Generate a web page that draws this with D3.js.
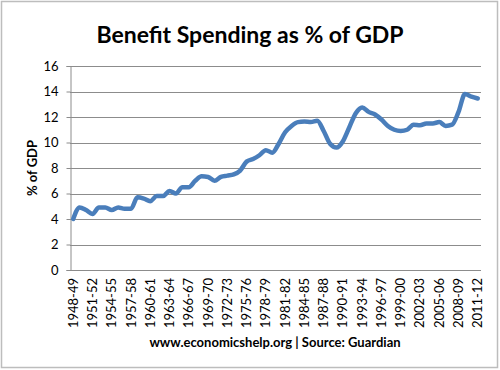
<!DOCTYPE html>
<html>
<head>
<meta charset="UTF-8">
<title>Benefit Spending as % of GDP</title>
<script src="https://d3js.org/d3.v7.min.js"></script>
<style>
    body { margin: 0; background: #fff; }
    svg text { font-family: Lato, "Open Sans", sans-serif; fill: #000; }
</style>
</head>
<body>
<svg id="chart" width="500" height="370"></svg>
<script>
    // fiscal years shown on the category axis
    const years = [
        "1948-49","1949-50","1950-51","1951-52","1952-53","1953-54","1954-55","1955-56",
        "1956-57","1957-58","1958-59","1959-60","1960-61","1961-62","1962-63","1963-64",
        "1964-65","1965-66","1966-67","1967-68","1968-69","1969-70","1970-71","1971-72",
        "1972-73","1973-74","1974-75","1975-76","1976-77","1977-78","1978-79","1979-80",
        "1980-81","1981-82","1982-83","1983-84","1984-85","1985-86","1986-87","1987-88",
        "1988-89","1989-90","1990-91","1991-92","1992-93","1993-94","1994-95","1995-96",
        "1996-97","1997-98","1998-99","1999-00","2000-01","2001-02","2002-03","2003-04",
        "2004-05","2005-06","2006-07","2007-08","2008-09","2009-10","2010-11","2011-12"
    ];
    // benefit spending, % of GDP
    const spending = [
        4.0, 4.9, 4.7, 4.4, 4.9, 4.9, 4.7, 4.9,
        4.8, 4.8, 5.7, 5.6, 5.4, 5.8, 5.8, 6.2,
        6.0, 6.5, 6.5, 7.0, 7.35, 7.3, 7.0, 7.3,
        7.4, 7.5, 7.8, 8.5, 8.7, 9.0, 9.4, 9.2,
        9.9, 10.8, 11.3, 11.6, 11.65, 11.6, 11.7, 10.9,
        9.9, 9.6, 10.1, 11.2, 12.3, 12.75, 12.4, 12.2,
        11.8, 11.3, 11.0, 10.9, 11.0, 11.4, 11.35, 11.5,
        11.5, 11.6, 11.3, 11.4, 12.4, 13.8, 13.6, 13.45
    ];
    const tickYears = [
        "1948-49","1951-52","1954-55","1957-58","1960-61","1963-64","1966-67","1969-70",
        "1972-73","1975-76","1978-79","1981-82","1984-85","1987-88","1990-91","1993-94",
        "1996-97","1999-00","2002-03","2005-06","2008-09","2011-12"
    ];
    const yTicks = [0, 2, 4, 6, 8, 10, 12, 14, 16];

    const svg = d3.select('#chart');
    const plotLeft = 70, plotRight = 481, plotTop = 66, plotBottom = 270;

    // outer frame
    svg.append('rect')
        .attr('x', 1.5).attr('y', 1.5)
        .attr('width', 496).attr('height', 366)
        .attr('fill', '#fff')
        .attr('stroke', '#bdbdbd')
        .attr('stroke-width', 1.5);

    const x = d3.scaleBand().domain(years).range([plotLeft, plotRight]);
    const y = d3.scaleLinear().domain([0, 16]).range([plotBottom, plotTop]);

    // gridlines
    svg.append('g')
        .selectAll('line')
        .data(yTicks.filter(d => d > 0))
        .join('line')
        .attr('x1', plotLeft).attr('x2', plotRight)
        .attr('y1', d => Math.round(y(d)) + 0.5)
        .attr('y2', d => Math.round(y(d)) + 0.5)
        .attr('stroke', '#8c8c8c')
        .attr('stroke-width', 1);

    // y axis
    const yAxis = svg.append('g')
        .attr('transform', `translate(${plotLeft + 0.5},0)`)
        .call(d3.axisLeft(y).tickValues(yTicks).tickSize(4).tickPadding(8));
    yAxis.select('.domain').attr('stroke', '#8c8c8c');
    yAxis.selectAll('.tick line').attr('stroke', '#8c8c8c');
    yAxis.selectAll('.tick text')
        .attr('font-size', 13)
        .style('font-family', 'Lato, sans-serif');

    // x axis line
    svg.append('line')
        .attr('x1', plotLeft).attr('x2', plotRight)
        .attr('y1', plotBottom + 0.5).attr('y2', plotBottom + 0.5)
        .attr('stroke', '#8c8c8c');

    // x tick labels, rotated
    svg.append('g')
        .selectAll('text')
        .data(tickYears)
        .join('text')
        .attr('transform', d => `translate(${x(d) + x.bandwidth() / 2 + 4.5},${plotBottom + 8}) rotate(-90)`)
        .attr('text-anchor', 'end')
        .attr('font-size', 13)
        .text(d => d);

    // data line
    const line = d3.line()
        .x((d, i) => x(years[i]) + x.bandwidth() / 2)
        .y(d => y(d))
        .curve(d3.curveMonotoneX);

    svg.append('path')
        .datum(spending)
        .attr('d', line)
        .attr('fill', 'none')
        .attr('stroke', '#4a7ebb')
        .attr('stroke-width', 4.5)
        .attr('stroke-linejoin', 'round')
        .attr('stroke-linecap', 'round');

    // title
    svg.append('text')
        .attr('x', 250).attr('y', 43)
        .attr('text-anchor', 'middle')
        .attr('font-size', 23)
        .attr('font-weight', 'bold')
        .text('Benefit Spending as % of GDP');

    // y title
    svg.append('text')
        .attr('transform', 'translate(37,168) rotate(-90)')
        .attr('text-anchor', 'middle')
        .attr('font-size', 13)
        .attr('font-weight', 'bold')
        .text('% of GDP');

    // source note
    svg.append('text')
        .attr('x', 275).attr('y', 347)
        .attr('text-anchor', 'middle')
        .attr('font-size', 13)
        .attr('font-weight', 'bold')
        .text('www.economicshelp.org | Source: Guardian');
</script>
</body>
</html>
